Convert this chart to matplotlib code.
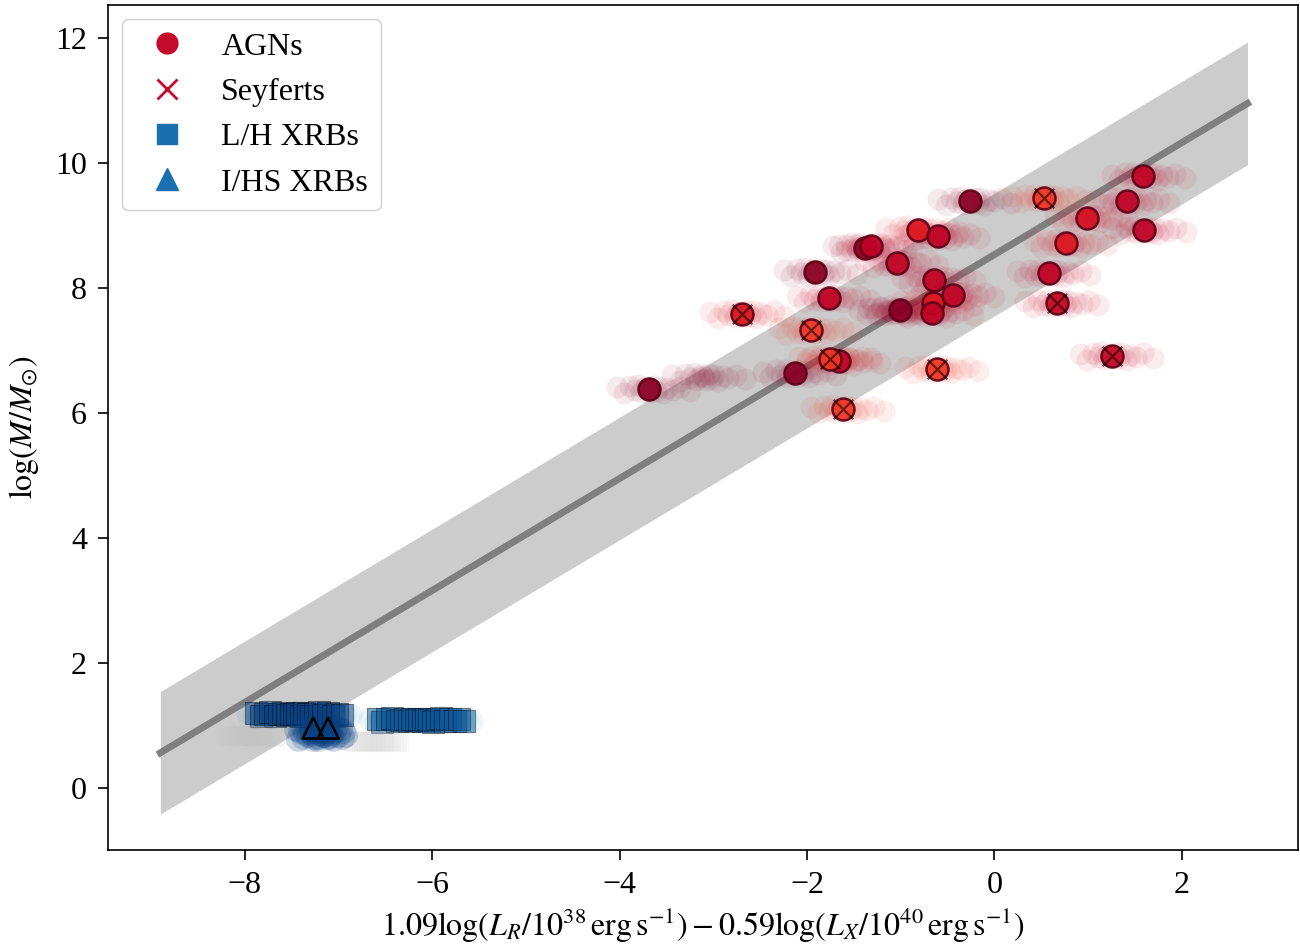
import numpy as np
import matplotlib
matplotlib.use('Agg')
import matplotlib.pyplot as plt
from matplotlib.lines import Line2D

plt.rcParams['font.family'] = ['Liberation Serif', 'DejaVu Serif']
plt.rcParams['mathtext.fontset'] = 'stix'
plt.rcParams['font.size'] = 23

# AGN sample (centres), colour shade in YlOrRd
AGN_X = [-3.69, -2.13, -1.91, -1.77, -1.66, -1.38, -1.32, -1.04, -1.01, -0.82, -0.60,
         -0.65, -0.66, -0.67, -0.44, -0.26, 0.58, 0.76, 0.99, 1.42, 1.59, 1.60]
AGN_Y = [6.38, 6.63, 8.25, 7.83, 6.83, 8.63, 8.66, 8.39, 7.64, 8.92, 8.82,
         8.13, 7.76, 7.60, 7.88, 9.39, 8.23, 8.71, 9.11, 9.38, 9.78, 8.92]
AGN_SHADE = [0.98, 0.98, 0.98, 0.86, 0.86, 0.96, 0.86, 0.86, 0.98, 0.77, 0.86,
             0.86, 0.77, 0.86, 0.86, 0.98, 0.86, 0.77, 0.80, 0.86, 0.86, 0.86]

# Seyferts
SEY_X = [-2.69, -1.96, -1.75, -1.62, -0.61, 0.53, 0.67, 1.25]
SEY_Y = [7.58, 7.32, 6.86, 6.06, 6.70, 9.43, 7.75, 6.91]
SEY_SHADE = [0.78, 0.68, 0.68, 0.68, 0.68, 0.68, 0.84, 0.84]

# sources only seen as a sample cloud
GHOST_X = [-3.10, -1.10]
GHOST_Y = [6.57, 7.62]
GHOST_SHADE = [0.98, 0.92]

# XRBs
LH_X = [-7.42, -6.12]
LH_Y = [1.18, 1.09]
LH_SHADE = [1.0, 0.93]
IHS_X = [-7.27, -7.11]
IHS_Y = [0.96, 0.96]
IHS_SHADE = [1.0, 1.0]

# offsets of the posterior samples around each source
CLOUD_DX = [-0.34, -0.26, -0.20, -0.15, -0.11, -0.08, -0.05, -0.02, 0.00, 0.02,
            0.05, 0.08, 0.11, 0.15, 0.20, 0.26, 0.34, 0.44]
CLOUD_DY = [0.03, -0.06, 0.05, -0.02, 0.06, -0.05, 0.01, 0.03, 0.00, -0.04,
            0.05, -0.03, 0.04, -0.06, 0.02, -0.01, 0.04, -0.03]
XRB_DX = [-0.46, -0.41, -0.36, -0.31, -0.26, -0.21, -0.17, -0.13, -0.09, -0.05,
          -0.02, 0.02, 0.05, 0.09, 0.13, 0.17, 0.21, 0.26, 0.31, 0.36, 0.41, 0.46]
XRB_DY = [0.02, -0.03, 0.01, 0.03, -0.02, 0.00, 0.02, -0.01, 0.01, 0.00, 0.02,
          -0.02, 0.02, 0.00, -0.03, 0.01, 0.03, -0.01, 0.02, -0.02, 0.01, -0.01]

# fit relation
FIT_X = [-8.9, 2.7]
FIT_SLOPE = 0.895
FIT_INTERCEPT = 8.53
FIT_SCATTER = 0.98

agn_cmap = plt.get_cmap('YlOrRd')
xrb_cmap = plt.get_cmap('GnBu')

fig = plt.figure(figsize=(13, 9.47), dpi=100)
ax = fig.add_axes([0.083, 0.1024, 0.9155, 0.8923])

fx = np.array(FIT_X)
fy = FIT_SLOPE * fx + FIT_INTERCEPT
ax.fill_between(fx, fy - FIT_SCATTER, fy + FIT_SCATTER, color='#cccccc', lw=0, zorder=1)
ax.plot(fx, fy, color='#7f7f7f', lw=5, zorder=2)

dx = np.array(CLOUD_DX)
dy = np.array(CLOUD_DY)

for x, y, v in zip(AGN_X + SEY_X + GHOST_X, AGN_Y + SEY_Y + GHOST_Y,
                   AGN_SHADE + SEY_SHADE + GHOST_SHADE):
    ax.scatter(x + dx, y + dy, s=250, color=agn_cmap(v), alpha=0.08, lw=0, zorder=3)

for x, y, v in zip(AGN_X + SEY_X, AGN_Y + SEY_Y, AGN_SHADE + SEY_SHADE):
    ax.scatter(x, y, s=250, color=agn_cmap(v), edgecolor='#5c0018', lw=1.8,
               alpha=0.92, zorder=5)
ax.scatter(SEY_X, SEY_Y, s=200, marker='x', color='k', alpha=0.55, lw=1.6, zorder=6)

# XRB sample clouds
xdx = np.array(XRB_DX)
xdy = np.array(XRB_DY)
for x, y, v in zip(LH_X, LH_Y, LH_SHADE):
    ax.scatter(x + 1.15 * xdx, y + xdy, s=340, marker='o', color=xrb_cmap(v - 0.25),
               lw=0, alpha=0.1, zorder=3)
    ax.scatter(x + xdx, y + xdy, s=260, marker='s', color=xrb_cmap(v),
               edgecolor='k', lw=0.6, alpha=0.5, zorder=3)
    ax.scatter(x + 0.6 * xdx - 0.5, y + 0.5 * xdy - 0.35, s=200, marker='s',
               color='#bbbbbb', lw=0, alpha=0.05, zorder=3)
for x, y, v in zip(IHS_X, IHS_Y, IHS_SHADE):
    ax.scatter(x + 0.4 * xdx, y + 3 * xdy - 0.08, s=320, marker='o', color=xrb_cmap(v),
               lw=0, alpha=0.2, zorder=3)
ax.scatter(IHS_X, IHS_Y, s=230, marker='^', facecolor='none', edgecolor='k', lw=1.8,
           zorder=6)

ax.set_xlim(-9.46, 3.24)
ax.set_ylim(-0.99, 12.52)
ax.set_xticks([-8, -6, -4, -2, 0, 2])
ax.set_yticks([0, 2, 4, 6, 8, 10, 12])
ax.tick_params(labelsize=23, length=7, width=1.2, pad=8)
for sp in ax.spines.values():
    sp.set_linewidth(1.2)

ax.set_xlabel(r'$1.09\mathrm{log}(L_R/10^{38}\,\mathrm{erg\,s^{-1}}) - 0.59\mathrm{log}(L_X/10^{40}\,\mathrm{erg\,s^{-1}})$',
              fontsize=23, labelpad=4)
ax.set_ylabel(r'$\mathrm{log}(M/M_{\odot})$', fontsize=23, labelpad=10)

handles = [
    Line2D([], [], ls='none', marker='o', ms=15, color='#c50a2c', label='AGNs'),
    Line2D([], [], ls='none', marker='x', ms=14, mew=2, color='#c50a2c', label='Seyferts'),
    Line2D([], [], ls='none', marker='s', ms=14, color='#1a6faf', label='L/H XRBs'),
    Line2D([], [], ls='none', marker='^', ms=16, color='#1a6faf', label='I/HS XRBs'),
]
ax.legend(handles=handles, loc='upper left', fontsize=23, handletextpad=0.7,
          borderpad=0.4, labelspacing=0.5, borderaxespad=0.45, framealpha=0.9)

fig.savefig('out.png', dpi=100)
